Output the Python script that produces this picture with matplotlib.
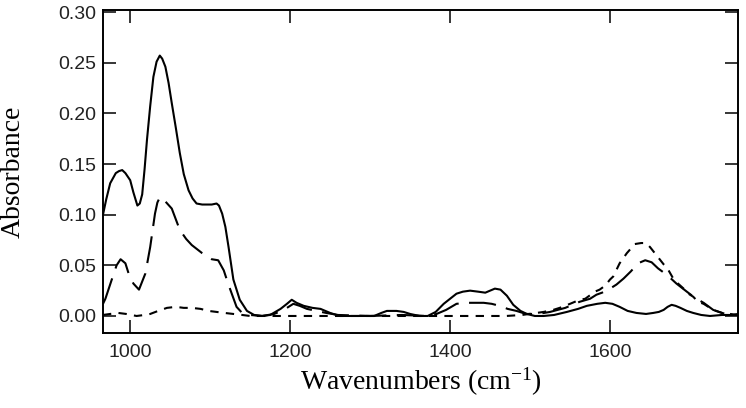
import matplotlib
matplotlib.use("Agg")
import matplotlib.pyplot as plt

# ---- data ----
solid_x = [966, 970, 975, 982, 986, 990, 994, 1000, 1004, 1009, 1012, 1015, 1018, 1021,
           1025, 1029, 1033, 1037, 1040, 1044, 1048, 1052, 1057, 1062, 1067, 1073, 1078,
           1083, 1090, 1096, 1102, 1108, 1111, 1115, 1119, 1123, 1129, 1137, 1146, 1155,
           1165, 1175, 1188, 1196, 1202, 1208, 1217, 1228, 1238, 1250, 1262, 1285, 1305,
           1314, 1321, 1333, 1342, 1350, 1362, 1372, 1382, 1392, 1400, 1408, 1416, 1425,
           1435, 1444, 1450, 1456, 1463, 1471, 1479, 1488, 1496, 1506, 1517, 1530, 1546,
           1560, 1571, 1584, 1594, 1603, 1612, 1622, 1633, 1645, 1654, 1661, 1667, 1672,
           1677, 1682, 1688, 1696, 1704, 1714, 1725, 1740, 1754, 1760]
solid_y = [0.100, 0.115, 0.131, 0.141, 0.143, 0.144, 0.141, 0.134, 0.122, 0.109, 0.111,
           0.120, 0.145, 0.174, 0.207, 0.236, 0.251, 0.257, 0.254, 0.246, 0.230, 0.210,
           0.186, 0.161, 0.140, 0.124, 0.116, 0.111, 0.110, 0.110, 0.110, 0.111, 0.109,
           0.101, 0.088, 0.068, 0.036, 0.016, 0.005, 0.001, 0.000, 0.001, 0.007, 0.012,
           0.016, 0.013, 0.010, 0.008, 0.007, 0.003, 0.000, 0.000, 0.000, 0.003, 0.005,
           0.005, 0.004, 0.002, 0.000, 0.000, 0.004, 0.012, 0.017, 0.022, 0.024, 0.025,
           0.024, 0.023, 0.025, 0.027, 0.026, 0.020, 0.011, 0.005, 0.002, 0.000, 0.000,
           0.001, 0.004, 0.007, 0.010, 0.012, 0.013, 0.012, 0.009, 0.005, 0.003, 0.002,
           0.003, 0.004, 0.006, 0.009, 0.011, 0.010, 0.008, 0.005, 0.003, 0.001, 0.000,
           0.001, 0.001, 0.002]

longdash_x = [966, 969, 977, 983, 988, 994, 998, 1004, 1011, 1019, 1025, 1031, 1034, 1037,
              1040, 1044, 1052, 1062, 1070, 1077, 1090, 1102, 1110, 1117, 1122, 1127, 1133,
              1140, 1150, 1165, 1180, 1192, 1204, 1212, 1221, 1233, 1245, 1260, 1300, 1340,
              1370, 1383, 1395, 1408, 1420, 1431, 1442, 1452, 1462, 1472, 1483, 1495, 1510,
              1525, 1544, 1562, 1575, 1583, 1590, 1600, 1608, 1617, 1626, 1635, 1644, 1652,
              1660, 1672, 1683, 1696, 1706, 1717, 1729, 1740, 1750, 1760]
longdash_y = [0.012, 0.017, 0.036, 0.050, 0.056, 0.052, 0.042, 0.032, 0.026, 0.042, 0.068,
              0.101, 0.112, 0.117, 0.117, 0.113, 0.106, 0.085, 0.076, 0.070, 0.062, 0.056,
              0.055, 0.045, 0.033, 0.022, 0.009, 0.003, 0.001, 0.000, 0.002, 0.006, 0.012,
              0.010, 0.007, 0.005, 0.003, 0.001, 0.000, 0.001, 0.000, 0.002, 0.006, 0.012,
              0.013, 0.013, 0.013, 0.012, 0.010, 0.007, 0.005, 0.002, 0.002, 0.004, 0.008,
              0.014, 0.017, 0.021, 0.023, 0.027, 0.031, 0.037, 0.044, 0.052, 0.055, 0.053,
              0.047, 0.040, 0.032, 0.024, 0.018, 0.013, 0.006, 0.003, 0.001, 0.001]

shortdash_x = [966, 975, 985, 995, 1008, 1018, 1025, 1035, 1046, 1057, 1067, 1077, 1088,
               1098, 1108, 1118, 1129, 1140, 1150, 1200, 1300, 1400, 1470, 1490, 1508, 1517,
               1529, 1537, 1550, 1562, 1569, 1581, 1587, 1594, 1600, 1604, 1612, 1621, 1631,
               1639, 1645, 1650, 1656, 1662, 1667, 1671, 1679, 1685, 1692, 1698, 1704, 1710,
               1717, 1729, 1740, 1750, 1760]
shortdash_y = [0.001, 0.002, 0.003, 0.002, 0.000, 0.001, 0.002, 0.005, 0.008, 0.009, 0.008,
               0.008, 0.007, 0.005, 0.004, 0.003, 0.002, 0.001, 0.000, 0.000, 0.000, 0.000,
               0.000, 0.001, 0.003, 0.004, 0.006, 0.008, 0.012, 0.016, 0.017, 0.024, 0.026,
               0.030, 0.036, 0.039, 0.052, 0.062, 0.071, 0.072, 0.072, 0.068, 0.062, 0.056,
               0.051, 0.048, 0.037, 0.032, 0.027, 0.022, 0.019, 0.014, 0.012, 0.006, 0.003,
               0.002, 0.001]

x_ticks = [1000, 1200, 1400, 1600]
y_ticks = [0.00, 0.05, 0.10, 0.15, 0.20, 0.25, 0.30]
y_ticklabels = ["0.00", "0.05", "0.10", "0.15", "0.20", "0.25", "0.30"]

# ---- style ----
plt.rcParams["mathtext.fontset"] = "custom"
plt.rcParams["mathtext.rm"] = "Liberation Serif"
plt.rcParams["mathtext.it"] = "Liberation Serif:italic"

fig = plt.figure(figsize=(7.46, 4.08), dpi=100)
ax = fig.add_axes([103 / 746, 75 / 408, 635 / 746, 323 / 408])

ax.plot(solid_x, solid_y, color="black", lw=1.5, solid_joinstyle="round")
ax.plot(longdash_x, longdash_y, color="black", lw=1.5, dashes=(13, 5))
ax.plot(shortdash_x, shortdash_y, color="black", lw=1.5, dashes=(4, 3.5))

ax.set_xlim(966, 1760)
ax.set_ylim(-0.0168, 0.302)

ax.set_xticks(x_ticks)
ax.set_xticklabels([str(t) for t in x_ticks])
ax.set_yticks(y_ticks)
ax.set_yticklabels(y_ticklabels)

ax.tick_params(direction="in", length=9.5, width=1.1, top=True, right=True,
               labelsize=14, pad=5, labelcolor="#222222")
ax.tick_params(axis="x", pad=8)
for lab in ax.get_xticklabels() + ax.get_yticklabels():
    lab.set_fontfamily("Liberation Sans")

for s in ax.spines.values():
    s.set_linewidth(1.4)

ax.set_ylabel("Absorbance", fontsize=20, family="Liberation Serif")
ax.yaxis.set_label_coords(-0.122, 0.5)
ax.set_xlabel("Wavenumbers (cm$^{\\mathrm{-1}}$)", fontsize=20, family="Liberation Serif")
ax.xaxis.set_label_coords(0.5, -0.10)

fig.savefig("out.png", dpi=100)
